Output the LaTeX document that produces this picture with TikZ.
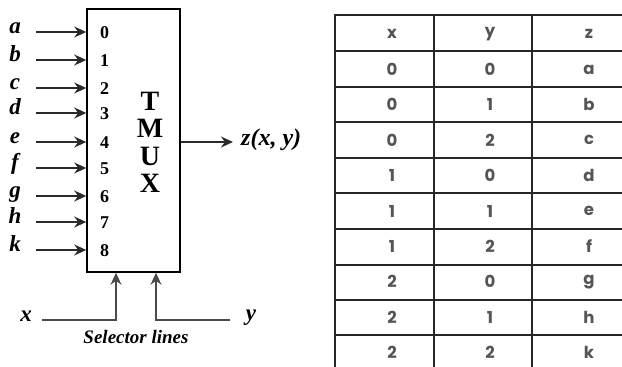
\documentclass[tikz,border=0pt]{standalone}
\usepackage{fontspec}
\setmainfont{Liberation Serif}
\newfontfamily\tabfont{Poppins}
\usetikzlibrary{arrows.meta}
\definecolor{lgray}{HTML}{2A2A2A}
\definecolor{tgray}{HTML}{555555}
\definecolor{sgray}{HTML}{4A4A4A}
\begin{document}
\begin{tikzpicture}[x=1pt,y=-1pt,
  inarr/.style={draw=lgray,line width=1.5pt,-{Stealth[length=12pt,width=11pt]}},
  selarr/.style={draw=sgray,line width=1.5pt,-{Stealth[length=12pt,width=11pt]}},
  var/.style={font=\fontsize{23}{23}\selectfont\bfseries\itshape,inner sep=0pt},
  num/.style={font=\fontsize{18}{18}\selectfont\bfseries,inner sep=0pt},
  big/.style={font=\fontsize{28}{28}\selectfont\bfseries,inner sep=0pt},
  cell/.style={font=\tabfont\bfseries\fontsize{16.5}{16.5}\selectfont,text=tgray,inner sep=0pt},
  grid/.style={draw=black!85,line width=2.4pt}]
\useasboundingbox (0,0) rectangle (622,367);
\fill[white] (0,0) rectangle (622,367);
% MUX box
\node[draw,line width=1.5pt,minimum width=93pt,minimum height=263pt,inner sep=0pt] (box) at (133.5,140.5) {};
% inputs
\foreach \l/\n/\yy [count=\i] in {a/0/32,b/1/60,c/2/88,d/3/113,e/4/142,f/5/168,g/6/196,h/7/222,k/8/250}{
  \node[var,anchor=base] (in\i) at (15,\yy+1) {\l};
  \coordinate (s\i) at (36,\yy);
  \coordinate (t\i) at (box.west|-s\i);
  \draw[inarr] (s\i) -- (t\i);
  \node[num] (n\i) at (104.5,\yy+1) {\n};
}
\node[big] (T) at (150,101) {T};
\node[big] (M) at (150,128) {M};
\node[big] (U) at (150,156) {U};
\node[big] (X) at (150,183) {X};
% output
\coordinate (o) at (box.east|-0,142);
\coordinate (oe) at (233,142);
\draw[inarr] (o) -- (oe);
\node[font=\fontsize{24}{24}\selectfont\bfseries\itshape,anchor=west,inner sep=0pt] (z) at (241,140) {z(x, y)};
% selectors
\coordinate (xs) at (42,320);
\coordinate (xb) at (116,320);
\coordinate (ys) at (230,320);
\coordinate (yb) at (156,320);
\draw[selarr] (xs) -- (xb) -- (xb|-box.south);
\draw[selarr] (ys) -- (yb) -- (yb|-box.south);
\node[var] (xl) at (26,316) {x};
\node[var] (yl) at (251,318) {y};
\node[font=\fontsize{19}{19}\selectfont\bfseries\itshape,inner sep=0pt] (sel) at (136,337) {Selector lines};
% table
\begin{scope}
\clip (0,0) rectangle (622,367);
\foreach \yy in {15,51,87,122,158,193,229,265,300,335}
  \draw[grid] (334,\yy) -- (640,\yy);
\foreach \xx in {335,434,532}
  \draw[grid] (\xx,14) -- (\xx,380);
\end{scope}
\foreach \a/\b/\c [count=\r] in {x/y/z,0/0/a,0/1/b,0/2/c,1/0/d,1/1/e,1/2/f,2/0/g,2/1/h,2/2/k}{
  \pgfmathsetmacro{\yc}{15+35.4*(\r-1)+19}
  \node[cell] (c\r a) at (392,\yc) {\a};
  \node[cell] (c\r b) at (490,\yc) {\b};
  \node[cell] (c\r c) at (589,\yc) {\c};
}
\end{tikzpicture}
\end{document}
